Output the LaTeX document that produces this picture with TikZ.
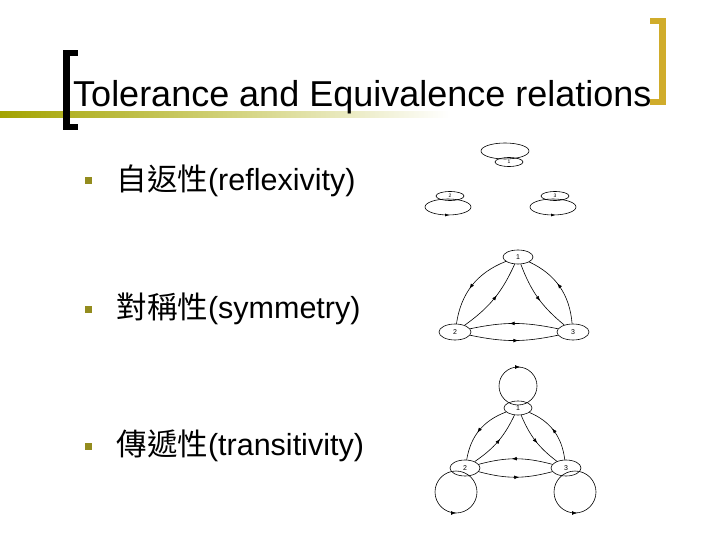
\documentclass[tikz,border=0pt]{standalone}
\usepackage{fontspec}
\setmainfont{Liberation Sans}
\newfontfamily\cjk{Noto Sans CJK TC}
\usetikzlibrary{arrows.meta,shapes.geometric,decorations.markings}
\begin{document}
\begin{tikzpicture}[x=1pt,y=-1pt,
  gn/.style={draw,ellipse,inner sep=0pt,font=\fontsize{5}{5}\selectfont,line width=0.6pt},
  ln/.style={line width=0.6pt},
  ma/.style={ln,postaction={decorate},decoration={markings,mark=at position #1 with {\arrow{Latex[length=5pt]}}}},
  ma/.default=0.55,
  bul/.style={fill=olive!70!yellow!80!black,minimum size=7pt,inner sep=0pt},
  item/.style={anchor=west,font=\fontsize{30.5}{34}\selectfont}]
\useasboundingbox (0,0) rectangle (720,540);
% header
\shade[left color=olive!60!yellow!70!gray, right color=white] (0,112) rectangle (450,118);
\fill[black] (63,50) rectangle (70,130);
\fill[black] (63,50) rectangle (78,56);
\fill[black] (63,124) rectangle (78,130);
\fill[yellow!60!orange!80!black] (659,18) rectangle (666,105);
\fill[yellow!60!orange!80!black] (650,18) rectangle (666,24);
\fill[yellow!60!orange!80!black] (650,99) rectangle (666,105);
\node[anchor=base west,inner sep=0pt,font=\fontsize{36}{40}\selectfont] (title) at (73,107) {Tolerance and Equivalence relations};
% items
\node[bul] (b1) at (88,181) {};
\node[bul] (b2) at (88,309) {};
\node[bul] (b3) at (88,446) {};
\node[item] (t1) at (113,181) {{\cjk 自返性}(reflexivity)};
\node[item] (t2) at (113,309) {{\cjk 對稱性}(symmetry)};
\node[item] (t3) at (113,446) {{\cjk 傳遞性}(transitivity)};
% reflexive
\node[gn,minimum width=28pt,minimum height=9pt] (r1) at (509,162) {1};
\node[gn,minimum width=28pt,minimum height=9pt] (r2) at (450,196) {2};
\node[gn,minimum width=28pt,minimum height=9pt] (r3) at (555,196) {3};
\draw[ln] (505,151) ellipse (24pt and 8pt);
\draw[ln] (448,207) ellipse (23pt and 8pt);
\draw[ln] (553,207) ellipse (23pt and 8pt);
\draw[-{Latex[length=4pt]}] (447,215) -- (449,215);
\draw[-{Latex[length=4pt]}] (553,215) -- (555,215);
% symmetric
\node[gn,minimum width=30pt,minimum height=14pt,font=\fontsize{7}{7}\selectfont] (s1) at (518,257) {1};
\node[gn,minimum width=32pt,minimum height=16pt,font=\fontsize{7}{7}\selectfont] (s2) at (455,332) {2};
\node[gn,minimum width=32pt,minimum height=16pt,font=\fontsize{7}{7}\selectfont] (s3) at (573,332) {3};
\draw[ma] (s1) to[bend right=30] (s2);
\draw[ma] (s2) to[bend right=15] (s1);
\draw[ma] (s1) to[bend right=15] (s3);
\draw[ma] (s3) to[bend right=30] (s1);
\draw[ma] (s3) to[bend right=12] (s2);
\draw[ma] (s2) to[bend right=12] (s3);
% transitive
\node[gn,minimum width=28pt,minimum height=14pt,font=\fontsize{7}{7}\selectfont] (q1) at (518,408) {1};
\node[gn,minimum width=30pt,minimum height=16pt,font=\fontsize{7}{7}\selectfont] (q2) at (465,468) {2};
\node[gn,minimum width=30pt,minimum height=16pt,font=\fontsize{7}{7}\selectfont] (q3) at (566,468) {3};
\draw[ln] (518,386) circle (19pt);
\draw[-{Latex[length=5pt]}] (516,367) -- (520,367);
\draw[ln] (456,492) circle (21pt);
\draw[-{Latex[length=5pt]}] (452,513) -- (456,513);
\draw[ln] (575,492) circle (21pt);
\draw[-{Latex[length=5pt]}] (573,513) -- (577,513);
\draw[ma] (q1) to[bend right=30] (q2);
\draw[ma] (q2) to[bend right=15] (q1);
\draw[ma] (q1) to[bend right=15] (q3);
\draw[ma] (q3) to[bend right=30] (q1);
\draw[ma] (q3) to[bend right=15] (q2);
\draw[ma] (q2) to[bend right=15] (q3);
\end{tikzpicture}
\end{document}
